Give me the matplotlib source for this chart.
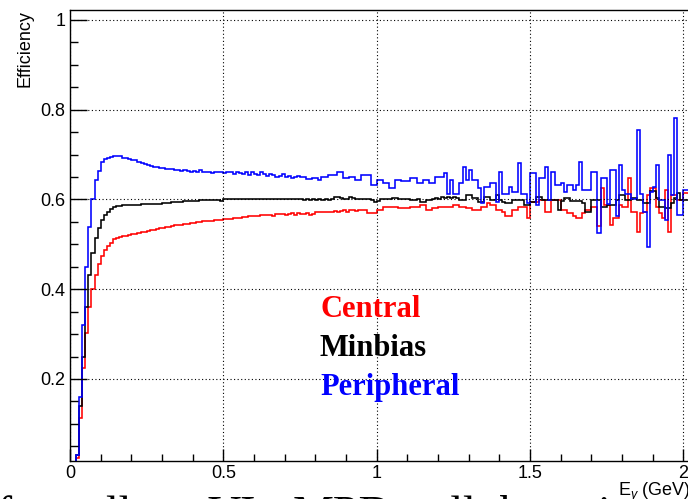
import numpy as np
import matplotlib
matplotlib.use("Agg")
import matplotlib.pyplot as plt
from matplotlib.ticker import MultipleLocator, FixedLocator, FixedFormatter

# ---------------- data (efficiency per 0.01 GeV bin, starting at E = 0) ----------------
bin_width = 0.01

central = [
    0.0, 0.0, 0.025, 0.112, 0.224, 0.302, 0.360, 0.400, 0.432, 0.456,
    0.473, 0.487, 0.496, 0.504, 0.511, 0.515, 0.517, 0.518, 0.519, 0.520,
    0.522, 0.524, 0.525, 0.527, 0.528, 0.530, 0.532, 0.533, 0.534, 0.536,
    0.537, 0.538, 0.539, 0.541, 0.542, 0.543, 0.543, 0.545, 0.546, 0.547,
    0.548, 0.549, 0.550, 0.551, 0.552, 0.553, 0.553, 0.554, 0.555, 0.555,
    0.556, 0.556, 0.557, 0.558, 0.559, 0.559, 0.560, 0.560, 0.562, 0.563,
    0.563, 0.564, 0.565, 0.565, 0.566, 0.566, 0.564, 0.567, 0.567, 0.568,
    0.565, 0.568, 0.569, 0.566, 0.569, 0.567, 0.567, 0.569, 0.565, 0.567,
    0.573, 0.573, 0.571, 0.573, 0.573, 0.571, 0.575, 0.573, 0.575, 0.577,
    0.573, 0.577, 0.577, 0.575, 0.577, 0.577, 0.577, 0.569, 0.569, 0.569,
    0.577, 0.577, 0.584, 0.584, 0.584, 0.584, 0.584, 0.580, 0.580, 0.580,
    0.580, 0.584, 0.584, 0.584, 0.588, 0.588, 0.577, 0.577, 0.580, 0.580,
    0.584, 0.584, 0.584, 0.584, 0.584, 0.588, 0.588, 0.584, 0.584, 0.580,
    0.580, 0.577, 0.577, 0.577, 0.584, 0.584, 0.591, 0.588, 0.588, 0.577,
    0.577, 0.573, 0.562, 0.562, 0.577, 0.577, 0.584, 0.584, 0.584, 0.559,
    0.595, 0.595, 0.595, 0.599, 0.599, 0.573, 0.573, 0.599, 0.599, 0.599,
    0.577, 0.577, 0.569, 0.569, 0.562, 0.558, 0.558, 0.569, 0.577, 0.577,
    0.584, 0.584, 0.540, 0.625, 0.587, 0.587, 0.543, 0.558, 0.558, 0.587,
    0.584, 0.584, 0.648, 0.573, 0.573, 0.528, 0.569, 0.573, 0.610, 0.625,
    0.625, 0.584, 0.569, 0.558, 0.621, 0.528, 0.610, 0.610, 0.599, 0.599,
    0.614, 0.614,
]

minbias = [
    0.0, 0.0, 0.030, 0.140, 0.250, 0.360, 0.432, 0.481, 0.514, 0.536,
    0.554, 0.565, 0.573, 0.579, 0.583, 0.585, 0.586, 0.587, 0.587, 0.587,
    0.588, 0.588, 0.588, 0.589, 0.589, 0.589, 0.589, 0.590, 0.590, 0.590,
    0.591, 0.591, 0.592, 0.594, 0.594, 0.595, 0.595, 0.596, 0.596, 0.597,
    0.597, 0.597, 0.598, 0.598, 0.598, 0.599, 0.599, 0.599, 0.598, 0.596,
    0.601, 0.601, 0.602, 0.602, 0.601, 0.602, 0.602, 0.601, 0.602, 0.601,
    0.602, 0.601, 0.602, 0.600, 0.601, 0.602, 0.601, 0.600, 0.601, 0.602,
    0.601, 0.600, 0.601, 0.602, 0.601, 0.600, 0.599, 0.600, 0.598, 0.600,
    0.599, 0.600, 0.598, 0.600, 0.599, 0.600, 0.606, 0.606, 0.603, 0.601,
    0.600, 0.606, 0.603, 0.601, 0.600, 0.600, 0.600, 0.600, 0.598, 0.595,
    0.597, 0.600, 0.601, 0.600, 0.600, 0.603, 0.603, 0.600, 0.600, 0.600,
    0.600, 0.599, 0.599, 0.600, 0.595, 0.595, 0.598, 0.598, 0.600, 0.603,
    0.600, 0.606, 0.603, 0.606, 0.603, 0.606, 0.603, 0.598, 0.598, 0.610,
    0.610, 0.603, 0.603, 0.595, 0.595, 0.606, 0.606, 0.598, 0.598, 0.610,
    0.598, 0.595, 0.591, 0.591, 0.598, 0.598, 0.598, 0.598, 0.588, 0.588,
    0.595, 0.595, 0.606, 0.606, 0.598, 0.598, 0.598, 0.598, 0.598, 0.577,
    0.597, 0.603, 0.603, 0.597, 0.597, 0.597, 0.597, 0.592, 0.573, 0.573,
    0.599, 0.599, 0.599, 0.584, 0.584, 0.588, 0.588, 0.588, 0.599, 0.610,
    0.610, 0.599, 0.599, 0.603, 0.603, 0.599, 0.599, 0.592, 0.592, 0.618,
    0.618, 0.603, 0.584, 0.584, 0.580, 0.580, 0.592, 0.603, 0.614, 0.599,
    0.599, 0.599,
]

peripheral = [
    0.0, 0.0, 0.030, 0.160, 0.320, 0.449, 0.538, 0.601, 0.643, 0.664,
    0.684, 0.690, 0.692, 0.694, 0.697, 0.697, 0.696, 0.693, 0.692, 0.690,
    0.688, 0.687, 0.684, 0.682, 0.680, 0.676, 0.675, 0.673, 0.672, 0.670,
    0.671, 0.668, 0.667, 0.668, 0.665, 0.666, 0.664, 0.666, 0.663, 0.662,
    0.664, 0.662, 0.666, 0.661, 0.660, 0.662, 0.659, 0.661, 0.660, 0.662,
    0.659, 0.660, 0.661, 0.657, 0.662, 0.658, 0.656, 0.661, 0.655, 0.662,
    0.657, 0.654, 0.660, 0.656, 0.652, 0.657, 0.655, 0.651, 0.653, 0.656,
    0.650, 0.652, 0.647, 0.650, 0.652, 0.651, 0.651, 0.645, 0.645, 0.647,
    0.647, 0.643, 0.651, 0.651, 0.655, 0.655, 0.655, 0.662, 0.662, 0.647,
    0.647, 0.651, 0.651, 0.643, 0.643, 0.655, 0.655, 0.655, 0.632, 0.632,
    0.643, 0.643, 0.636, 0.636, 0.625, 0.625, 0.643, 0.643, 0.640, 0.640,
    0.640, 0.647, 0.647, 0.636, 0.636, 0.643, 0.643, 0.636, 0.636, 0.651,
    0.651, 0.651, 0.658, 0.613, 0.643, 0.613, 0.613, 0.636, 0.673, 0.643,
    0.666, 0.643, 0.643, 0.625, 0.591, 0.628, 0.628, 0.636, 0.636, 0.595,
    0.662, 0.613, 0.613, 0.628, 0.617, 0.617, 0.681, 0.613, 0.613, 0.591,
    0.658, 0.658, 0.588, 0.647, 0.647, 0.673, 0.599, 0.662, 0.632, 0.632,
    0.636, 0.617, 0.632, 0.632, 0.620, 0.632, 0.684, 0.620, 0.620, 0.620,
    0.662, 0.662, 0.525, 0.647, 0.647, 0.590, 0.666, 0.666, 0.562, 0.677,
    0.620, 0.613, 0.613, 0.600, 0.600, 0.755, 0.613, 0.573, 0.495, 0.617,
    0.628, 0.676, 0.599, 0.599, 0.554, 0.699, 0.610, 0.781, 0.565, 0.565,
    0.620, 0.620,
]

series_names = ["Central", "Minbias", "Peripheral"]
series_values = [central, minbias, peripheral]
series_colors = ["#ff0000", "#000000", "#0000ff"]

x_ticks = [0, 0.5, 1, 1.5, 2]
x_tick_labels = ["0", "0.5", "1", "1.5", "2"]
y_ticks = [0.2, 0.4, 0.6, 0.8, 1.0]
y_tick_labels = ["0.2", "0.4", "0.6", "0.8", "1"]

y_label = "Efficiency"
x_label = r"E$_{\gamma}$ (GeV)"
slide_words = ["of", "small", "VI", "MPD", "all", "be", "i"]

# ---------------- layout ----------------
plt.rcParams["mathtext.fontset"] = "custom"
plt.rcParams["mathtext.rm"] = "Liberation Sans"
plt.rcParams["mathtext.it"] = "Liberation Sans:italic"

W, H = 688, 499
fig = plt.figure(figsize=(W / 100, H / 100), dpi=100)
fig.patch.set_facecolor("white")

ax_left, ax_top, ax_bottom = 70, 10, 461
x_min, x_max = 0.0, 2.2
px_per_unit = 306.65
ax_w = (x_max - x_min) * px_per_unit
ax = fig.add_axes([ax_left / W, 1 - ax_bottom / H, ax_w / W, (ax_bottom - ax_top) / H])

for vals, col in zip(series_values, series_colors):
    edges = np.arange(len(vals) + 1) * bin_width
    ax.stairs(vals, edges, color=col, linewidth=1.15, baseline=None)

ax.set_xlim(x_min, x_max)
ax.set_ylim(0.0173, 1.022)

ax.xaxis.set_major_locator(FixedLocator(x_ticks))
ax.xaxis.set_major_formatter(FixedFormatter(x_tick_labels))
ax.xaxis.set_minor_locator(MultipleLocator(0.1))
ax.yaxis.set_major_locator(FixedLocator(y_ticks))
ax.yaxis.set_major_formatter(FixedFormatter(y_tick_labels))
ax.yaxis.set_minor_locator(MultipleLocator(0.05))

ax.grid(True, which="major", color="black", linestyle=(0, (1, 2.2)), linewidth=0.8)
ax.set_axisbelow(False)

for s in ax.spines.values():
    s.set_linewidth(1.0)
    s.set_color("black")

ax.tick_params(axis="y", which="major", direction="in", length=12.2, width=1.0, pad=3.5,
               labelsize=13, left=True, right=False)
ax.tick_params(axis="y", which="minor", direction="in", length=5.8, width=1.0, left=True, right=False)
ax.tick_params(axis="x", which="major", direction="in", length=8.6, width=1.0, pad=3.0,
               labelsize=13, bottom=True, top=False)
ax.tick_params(axis="x", which="minor", direction="in", length=5.0, width=1.0, bottom=True, top=False)
for lab in ax.get_xticklabels() + ax.get_yticklabels():
    lab.set_family("Liberation Sans")

fig.text(25 / W, 1 - 10 / H, y_label, rotation=90, ha="center", va="top",
         fontsize=13, family="Liberation Sans")
fig.text(618 / W, 1 - 496 / H, x_label, ha="left", va="baseline",
         fontsize=13, family="Liberation Sans")

legend_x = 320
legend_baselines = [317, 356.5, 395]
for name, col, yb in zip(series_names, series_colors, legend_baselines):
    fig.text(legend_x / W, 1 - yb / H, name, color=col, fontsize=22,
             family="Liberation Serif", weight="bold", ha="left", va="baseline")

# clipped slide text below the plot
word_x = [-26, 32, 207, 293, 430, 500, 598]
for w, xp in zip(slide_words, word_x):
    fig.text(xp / W, 1 - 527.5 / H, w, fontsize=33, family="Liberation Serif",
             ha="left", va="baseline", color="black")

fig.savefig("out.png", dpi=100, facecolor="white")
